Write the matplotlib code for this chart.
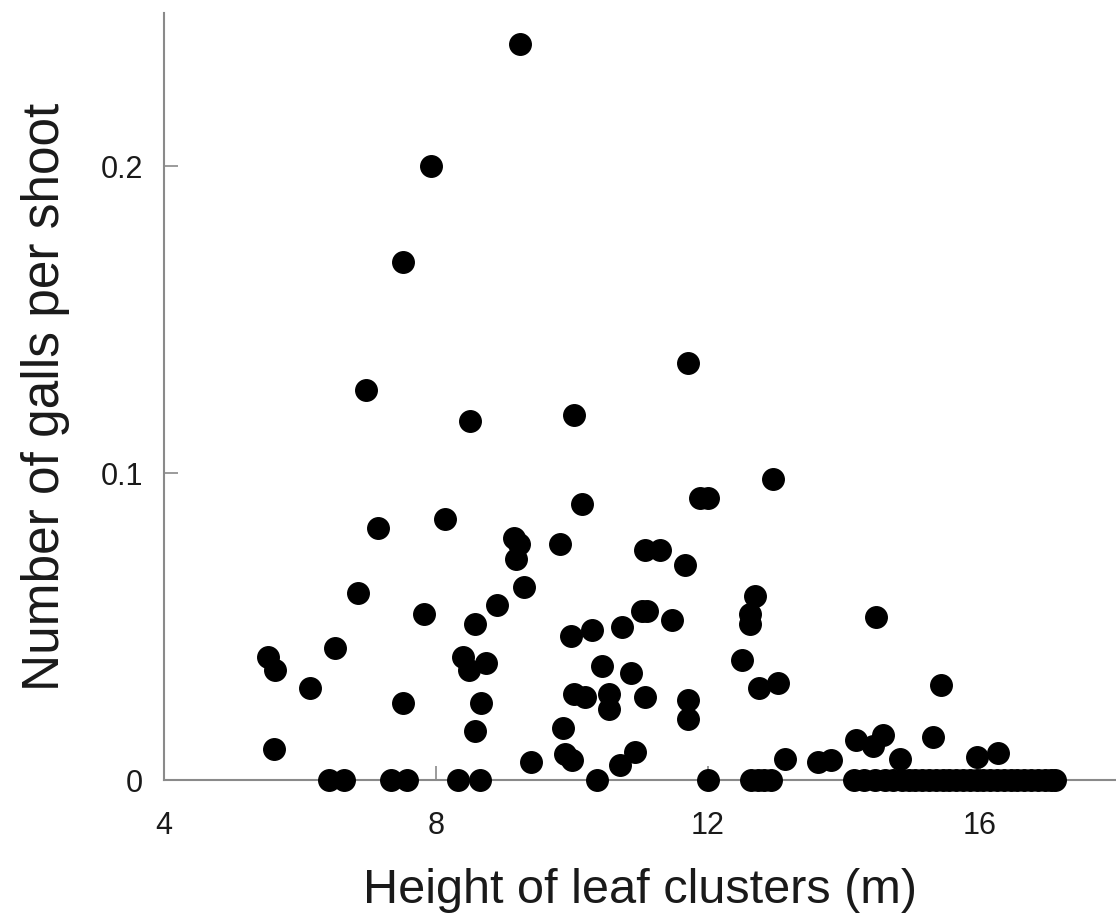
import matplotlib
matplotlib.use('Agg')
import matplotlib.pyplot as plt

plt.rcParams['font.family'] = ['Liberation Sans', 'DejaVu Sans']

# points with galls
height = [9.23, 7.93, 7.51, 6.97, 8.50, 11.70, 10.03, 12.96, 10.15, 11.88,
          12.00, 7.14, 8.13, 9.15, 9.22, 9.18, 9.83, 11.08, 11.30, 11.66,
          9.29, 6.85, 7.83, 8.89, 8.58, 6.52, 5.53, 5.63, 6.14, 8.39,
          8.49, 8.74, 7.51, 8.66, 8.57, 5.61, 9.98, 10.29, 10.74, 11.03,
          11.10, 11.47, 10.44, 10.87, 10.03, 10.19, 10.54, 10.55, 11.08, 11.70,
          11.70, 9.86, 9.39, 9.90, 10.00, 10.71, 10.93, 12.69, 12.62, 12.62,
          12.50, 12.75, 13.03, 14.47, 13.13, 13.62, 13.81, 14.18, 14.57, 14.43,
          14.82, 15.43, 15.31, 15.96, 16.27]
galls = [0.240, 0.200, 0.169, 0.127, 0.117, 0.136, 0.119, 0.098, 0.090, 0.092,
         0.092, 0.082, 0.085, 0.079, 0.077, 0.072, 0.077, 0.075, 0.075, 0.070,
         0.063, 0.061, 0.054, 0.057, 0.051, 0.043, 0.040, 0.036, 0.030, 0.040,
         0.036, 0.038, 0.025, 0.025, 0.016, 0.010, 0.047, 0.049, 0.050, 0.055,
         0.055, 0.052, 0.037, 0.035, 0.028, 0.027, 0.028, 0.023, 0.027, 0.026,
         0.020, 0.017, 0.006, 0.0085, 0.0065, 0.005, 0.009, 0.060, 0.054, 0.051,
         0.039, 0.030, 0.0315, 0.053, 0.007, 0.006, 0.0065, 0.013, 0.0147, 0.011,
         0.0067, 0.031, 0.014, 0.0076, 0.0089]

# points with no galls
height_zero = [6.42, 6.65, 7.34, 7.58, 8.32, 8.64, 10.37, 12.00, 12.63, 12.73,
               12.83, 12.92, 14.15, 14.30, 14.45, 14.60, 14.72, 14.85, 14.95, 15.05,
               15.15, 15.25, 15.35, 15.45, 15.55, 15.65, 15.75, 15.85, 15.95, 16.05,
               16.15, 16.25, 16.35, 16.45, 16.55, 16.65, 16.75, 16.85, 16.95, 17.05,
               17.10]
galls_zero = [0.0] * len(height_zero)

xticks = [4, 8, 12, 16]
yticks = [0, 0.1, 0.2]
ytick_labels = ['0', '0.1', '0.2']

fig = plt.figure(figsize=(11.16, 9.17), dpi=100)
ax = fig.add_axes([0.147, 0.1494, 0.853, 0.8364])

ax.plot(height, galls, 'o', color='black', markersize=15.5, clip_on=False, zorder=3)
ax.plot(height_zero, galls_zero, 'o', color='black', markersize=15.5, clip_on=False, zorder=3)

ax.set_xlim(4, 18)
ax.set_ylim(0, 0.25)
ax.set_xticks(xticks)
ax.set_xticklabels([str(t) for t in xticks])
ax.set_yticks(yticks)
ax.set_yticklabels(ytick_labels)

for side in ['top', 'right']:
    ax.spines[side].set_visible(False)
for side in ['left', 'bottom']:
    ax.spines[side].set_color('#8a8a8a')
    ax.spines[side].set_linewidth(1.5)

ax.tick_params(axis='both', direction='in', length=10, width=1.2, color='#8a8a8a',
               labelsize=22, labelcolor='#1a1a1a')
ax.tick_params(axis='x', pad=22)
ax.tick_params(axis='y', pad=15)

ax.set_xlabel('Height of leaf clusters (m)', fontsize=35, color='#1a1a1a', labelpad=20)
ax.set_ylabel('Number of galls per shoot', fontsize=37, color='#1a1a1a', labelpad=22)

fig.savefig('out.png', dpi=100)
